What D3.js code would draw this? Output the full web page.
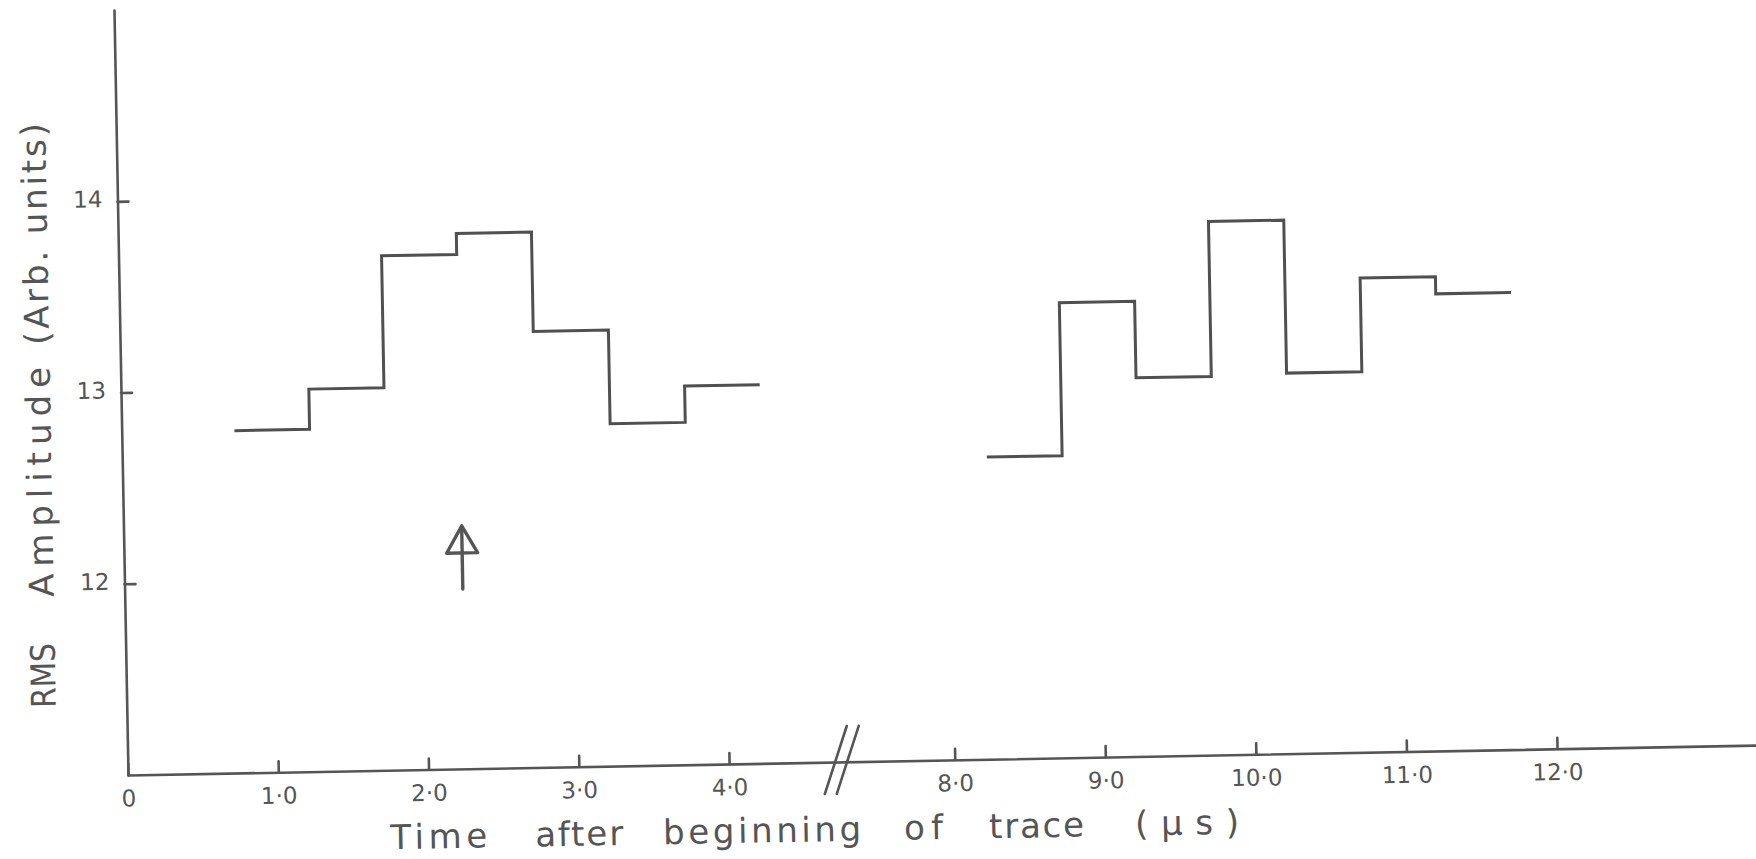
<!DOCTYPE html>
<html>
<head>
<meta charset="utf-8">
<script src="https://cdn.jsdelivr.net/npm/d3@7"></script>
<style>
  body { margin: 0; background: #fff; }
  svg { display: block; }
  .axis path, .axis line { stroke: #555; stroke-width: 2.6; stroke-linecap: round; }
  .axis text { fill: #555; font-family: "DejaVu Sans", sans-serif; font-size: 23px; }
  .title { fill: #555; font-family: "DejaVu Sans", sans-serif; font-size: 34px; }
  .trace { fill: none; stroke: #505050; stroke-width: 3; stroke-linejoin: miter; }
</style>
</head>
<body>
<script>
var w = 1629,
  h = 765,
  originX = 128,
  originY = 775,
  tilt = -1.05;

// step edges in microseconds, and the RMS level of each step
var leftEdges = [0.75, 1.25, 1.75, 2.25, 2.75, 3.25, 3.75, 4.25];
var leftValues = [12.79, 13.00, 13.69, 13.80, 13.28, 12.79, 12.98];
var rightEdges = [8.25, 8.75, 9.25, 9.75, 10.25, 10.75, 11.25, 11.75];
var rightValues = [12.58, 13.38, 12.98, 13.79, 12.99, 13.48, 13.39];

var xTicks = [0, 1, 2, 3, 4, 8, 9, 10, 11, 12];
var yTicks = [12, 13, 14];
var xBreak = [4.75, 7.25];
var xMax = 13.33;
var yDomain = [11, 15];

// arrow marking the peak
var arrowX = 2.25, arrowFrom = 11.94, arrowTo = 12.27;

var yTitle = "RMS Amplitude (Arb. units)";
var xTitle = "Time after beginning of trace (µs)";

var svg = d3.select("body")
  .append("svg")
  .attr("width", 1756)
  .attr("height", 859);

// the whole sheet sits slightly tilted
var g = svg.append("g")
  .attr("transform", `rotate(${tilt}, ${originX}, ${originY}) translate(${originX}, ${originY - h})`);

// broken x axis: 4.75..7.25 collapses to one point
var unit = 150.3;
var xScale = d3.scaleLinear()
  .domain([0, xBreak[0], xBreak[1], xMax])
  .range([0, xBreak[0] * unit, xBreak[0] * unit, xBreak[0] * unit + (xMax - xBreak[1]) * 150.6]);
var yScale = d3.scaleLinear().domain(yDomain).range([h, 0]);

var xAxis = d3.axisBottom(xScale)
  .tickValues(xTicks)
  .tickSize(-11)
  .tickSizeOuter(0)
  .tickPadding(15)
  .tickFormat(d => d === 0 ? "0" : d.toFixed(1).replace(".", "\u00b7"));

g.append("g")
  .attr("class", "axis")
  .attr("transform", `translate(0, ${h})`)
  .call(xAxis);

var yAxis = d3.axisLeft(yScale)
  .tickValues(yTicks)
  .tickSize(-11)
  .tickSizeOuter(0)
  .tickPadding(15)
  .tickFormat(d3.format("d"));

g.append("g")
  .attr("class", "axis")
  .call(yAxis)
  .selectAll("text")
  .attr("dy", "0.22em");

// "//" break marks
var bx = xScale(xBreak[0]);
g.selectAll(".brk")
  .data([-6, 6])
  .enter()
  .append("line")
  .attr("class", "brk")
  .attr("x1", d => bx + d - 11.6)
  .attr("y1", h - 2 + 33.8)
  .attr("x2", d => bx + d + 11.6)
  .attr("y2", h - 2 - 33.8)
  .attr("stroke", "#555")
  .attr("stroke-width", 2.6)
  .attr("stroke-linecap", "round");

// step traces
var step = d3.line()
  .x(d => xScale(d[0]))
  .y(d => yScale(d[1]))
  .curve(d3.curveStepAfter);

[[leftEdges, leftValues], [rightEdges, rightValues]].forEach(s => {
  var pts = s[0].map((e, i) => [e, s[1][Math.min(i, s[1].length - 1)]]);
  g.append("path")
    .attr("class", "trace")
    .attr("d", step(pts));
});

// arrow
var ax = xScale(arrowX), ay = yScale(arrowTo);
g.append("line")
  .attr("x1", ax).attr("y1", yScale(arrowFrom))
  .attr("x2", ax).attr("y2", ay)
  .attr("stroke", "#555")
  .attr("stroke-width", 3.4)
  .attr("stroke-linecap", "round");
g.append("path")
  .attr("d", `M${ax - 15.5},${ay + 27} L${ax},${ay} L${ax + 15.5},${ay + 27} Z`)
  .attr("fill", "none")
  .attr("stroke", "#555")
  .attr("stroke-width", 3.4)
  .attr("stroke-linejoin", "round");

// axis titles, word by word to follow the lettering
var yWords = yTitle.split(/ (?=[A(])/);   // RMS | Amplitude | (Arb. units)
var ySpans = [[696.5, 65], [585.5, 230], [333.5, 222]];
g.selectAll(".ytitle")
  .data(yWords)
  .enter()
  .append("text")
  .attr("class", "title ytitle")
  .attr("transform", (d, i) => `translate(-71, ${ySpans[i][0]}) rotate(-90)`)
  .attr("textLength", (d, i) => ySpans[i][1])
  .attr("lengthAdjust", (d, i) => i === 0 ? "spacingAndGlyphs" : "spacing")
  .text(d => d);

var xSpans = [[261, 358], [406, 494], [534, 732], [775, 814], [860, 955], [1006, 1110]];
g.selectAll(".xtitle")
  .data(xTitle.split(" "))
  .enter()
  .append("text")
  .attr("class", "title xtitle")
  .attr("x", (d, i) => xSpans[i][0])
  .attr("y", h + 79)
  .attr("textLength", (d, i) => xSpans[i][1] - xSpans[i][0])
  .attr("lengthAdjust", "spacing")
  .text(d => d);
</script>
</body>
</html>
